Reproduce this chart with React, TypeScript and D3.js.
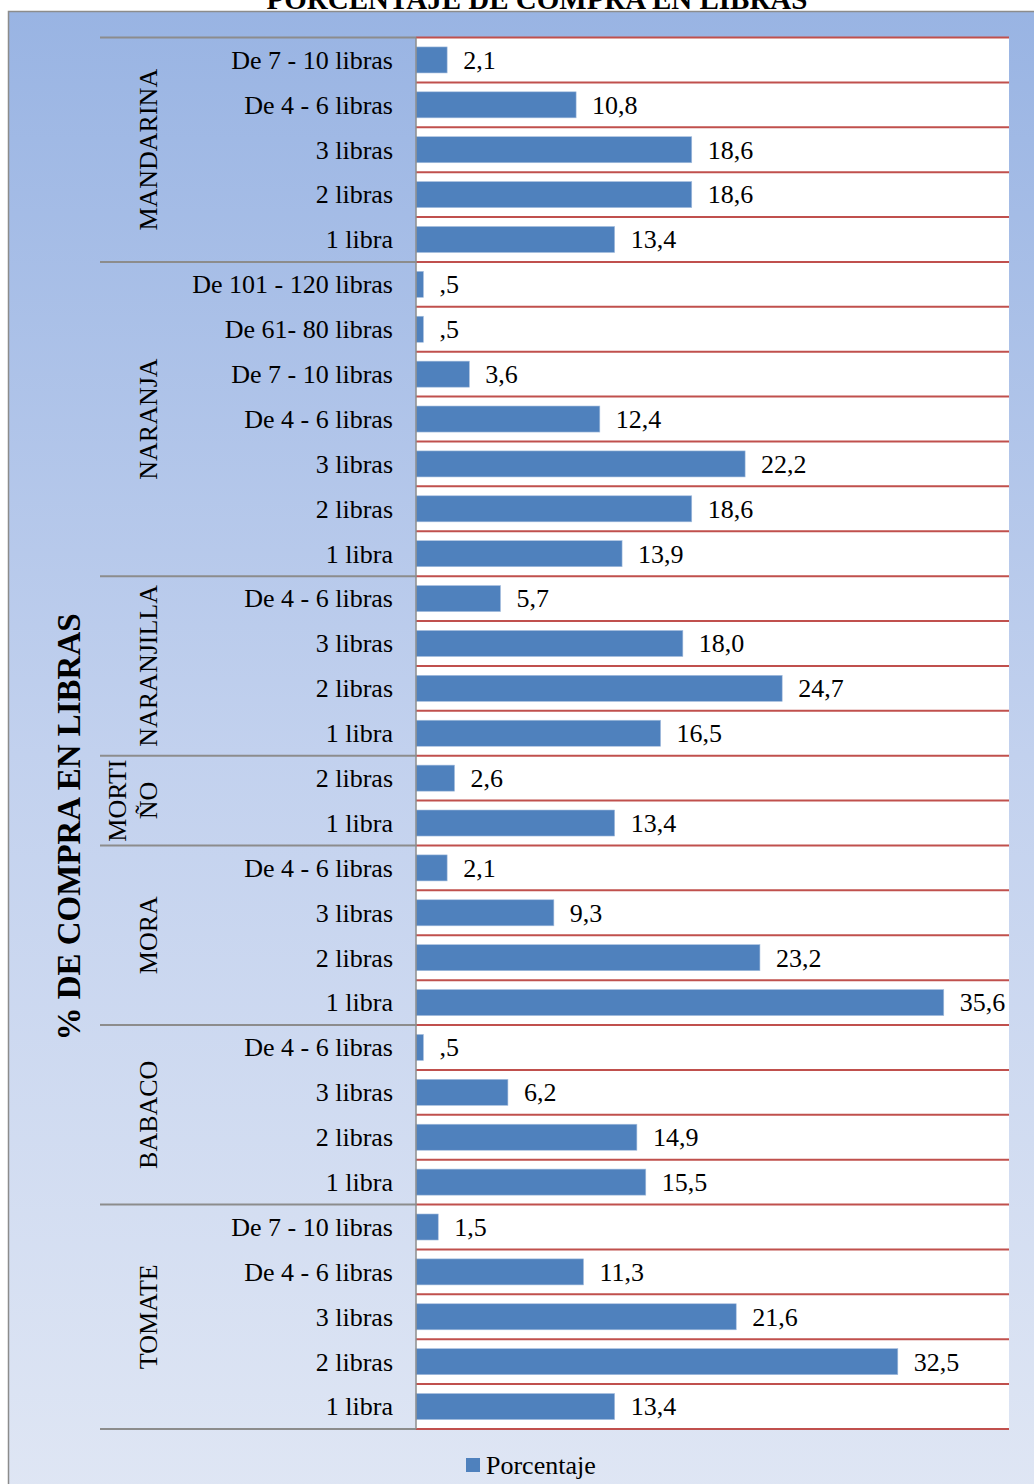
import React from "react";
import { scaleBand, scaleLinear } from "d3";

// Groups (top to bottom) and their rows
const groups = ["MANDARINA", "NARANJA", "NARANJILLA", "MORTIÑO", "MORA", "BABACO", "TOMATE"];

const mandarinaSizes = ["De 7 - 10 libras", "De 4 - 6 libras", "3 libras", "2 libras", "1 libra"];
const mandarinaValues = [2.1, 10.8, 18.6, 18.6, 13.4];

const naranjaSizes = ["De 101 - 120 libras", "De 61- 80 libras", "De 7 - 10 libras", "De 4 - 6 libras", "3 libras", "2 libras", "1 libra"];
const naranjaValues = [0.5, 0.5, 3.6, 12.4, 22.2, 18.6, 13.9];

const naranjillaSizes = ["De 4 - 6 libras", "3 libras", "2 libras", "1 libra"];
const naranjillaValues = [5.7, 18.0, 24.7, 16.5];

const mortinoSizes = ["2 libras", "1 libra"];
const mortinoValues = [2.6, 13.4];

const moraSizes = ["De 4 - 6 libras", "3 libras", "2 libras", "1 libra"];
const moraValues = [2.1, 9.3, 23.2, 35.6];

const babacoSizes = ["De 4 - 6 libras", "3 libras", "2 libras", "1 libra"];
const babacoValues = [0.5, 6.2, 14.9, 15.5];

const tomateSizes = ["De 7 - 10 libras", "De 4 - 6 libras", "3 libras", "2 libras", "1 libra"];
const tomateValues = [1.5, 11.3, 21.6, 32.5, 13.4];

const groupSizes = [mandarinaSizes, naranjaSizes, naranjillaSizes, mortinoSizes, moraSizes, babacoSizes, tomateSizes];
const groupValues = [mandarinaValues, naranjaValues, naranjillaValues, mortinoValues, moraValues, babacoValues, tomateValues];

const xDomain = [0, 40];

interface Row {
  key: string;
  group: string;
  label: string;
  value: number;
}

const rows: Row[] = groups.flatMap((g, gi) =>
  groupSizes[gi].map((label, i) => ({
    key: `${g}|${i}`,
    group: g,
    label,
    value: groupValues[gi][i],
  })),
);

const fmt = (v: number) => {
  const s = v.toFixed(1).replace(".", ",");
  return s.startsWith("0,") ? s.slice(1) : s;
};

const FONT = "'Liberation Serif', 'Times New Roman', serif";

export default function App() {
  const W = 1034;
  const H = 1484;
  const plotLeft = 416;
  const plotRight = 1009;
  const plotTop = 37.5;
  const plotBottom = 1429;
  const labelLeft = 100;

  const y = scaleBand<string>()
    .domain(rows.map((r) => r.key))
    .range([plotTop, plotBottom])
    .padding(0);
  const x = scaleLinear().domain(xDomain).range([plotLeft, plotRight]);

  const step = y.bandwidth();
  const barH = step * 0.58;

  // group boundaries
  const bounds: { group: string; y0: number; y1: number }[] = [];
  groups.forEach((g) => {
    const gr = rows.filter((r) => r.group === g);
    bounds.push({
      group: g,
      y0: y(gr[0].key)!,
      y1: y(gr[gr.length - 1].key)! + step,
    });
  });

  return (
    <div style={{ position: "absolute", left: 0, top: 0 }}>
      <svg width={W} height={H} style={{ display: "block" }} fontFamily={FONT}>
        <defs>
          <linearGradient id="bg" x1="0" x2="0" y1="0" y2="1">
            <stop offset="0%" stopColor="#99B4E3" />
            <stop offset="50%" stopColor="#C2D1EE" />
            <stop offset="100%" stopColor="#DFE6F4" />
          </linearGradient>
        </defs>
        <rect x={0} y={0} width={W} height={H} fill="#ffffff" />
        <rect x={8.5} y={11.5} width={W} height={H} fill="url(#bg)" stroke="#8C8C8C" strokeWidth={1.5} />

        {/* Title (cut at top) */}
        <text x={537} y={9} textAnchor="middle" fontWeight="bold" fontSize={29} fill="#000">
          PORCENTAJE DE COMPRA EN LIBRAS
        </text>

        {/* Plot area */}
        <rect x={plotLeft} y={plotTop} width={plotRight - plotLeft} height={plotBottom - plotTop} fill="#ffffff" />

        {/* Red gridlines */}
        {rows.map((r) => (
          <line
            key={"g" + r.key}
            x1={plotLeft}
            x2={plotRight}
            y1={y(r.key)!}
            y2={y(r.key)!}
            stroke="#C0504D"
            strokeWidth={2}
          />
        ))}
        <line x1={plotLeft} x2={plotRight} y1={plotBottom} y2={plotBottom} stroke="#C0504D" strokeWidth={2} />

        {/* Bars */}
        {rows.map((r) => (
          <rect
            key={"b" + r.key}
            x={x(0)}
            y={y(r.key)! + (step - barH) / 2}
            width={x(r.value) - x(0)}
            height={barH}
            fill="#4F81BD"
            stroke="#A7BFDE"
            strokeWidth={0.6}
          />
        ))}

        {/* Value labels */}
        {rows.map((r) => (
          <text
            key={"v" + r.key}
            x={x(r.value) + 16}
            y={y(r.key)! + step / 2}
            dy="0.34em"
            fontSize={26}
            fill="#000"
          >
            {fmt(r.value)}
          </text>
        ))}

        {/* Category labels */}
        {rows.map((r) => (
          <text
            key={"c" + r.key}
            x={393}
            y={y(r.key)! + step / 2}
            dy="0.34em"
            textAnchor="end"
            fontSize={26}
            fill="#000"
          >
            {r.label}
          </text>
        ))}

        {/* Group separators */}
        {bounds.map((b) => (
          <line key={"s" + b.group} x1={labelLeft} x2={plotLeft} y1={b.y0} y2={b.y0} stroke="#8C8C8C" strokeWidth={2} />
        ))}
        <line x1={labelLeft} x2={plotLeft} y1={plotBottom} y2={plotBottom} stroke="#8C8C8C" strokeWidth={2} />
        <line x1={plotLeft} x2={plotLeft} y1={plotTop} y2={plotBottom} stroke="#8C8C8C" strokeWidth={1.5} />

        {/* Group labels */}
        {bounds.map((b) => {
          const cy = (b.y0 + b.y1) / 2;
          if (b.group === "MORTIÑO") {
            return (
              <text
                key={"l" + b.group}
                transform={`translate(126,${cy}) rotate(-90)`}
                textAnchor="middle"
                fontSize={26}
                fill="#000"
              >
                <tspan x={0} y={0}>MORTI</tspan>
                <tspan x={0} y={31}>ÑO</tspan>
              </text>
            );
          }
          return (
            <text
              key={"l" + b.group}
              transform={`translate(157,${cy}) rotate(-90)`}
              textAnchor="middle"
              fontSize={26}
              fill="#000"
            >
              {b.group}
            </text>
          );
        })}

        {/* Axis title */}
        <text
          transform={`translate(80,827) rotate(-90)`}
          textAnchor="middle"
          fontWeight="bold"
          fontSize={33}
          fill="#000"
        >
          % DE COMPRA EN LIBRAS
        </text>

        {/* Legend */}
        <rect x={466} y={1458} width={14} height={14} fill="#4F81BD" />
        <text x={486} y={1474} fontSize={26} fill="#000">
          Porcentaje
        </text>
      </svg>
    </div>
  );
}
